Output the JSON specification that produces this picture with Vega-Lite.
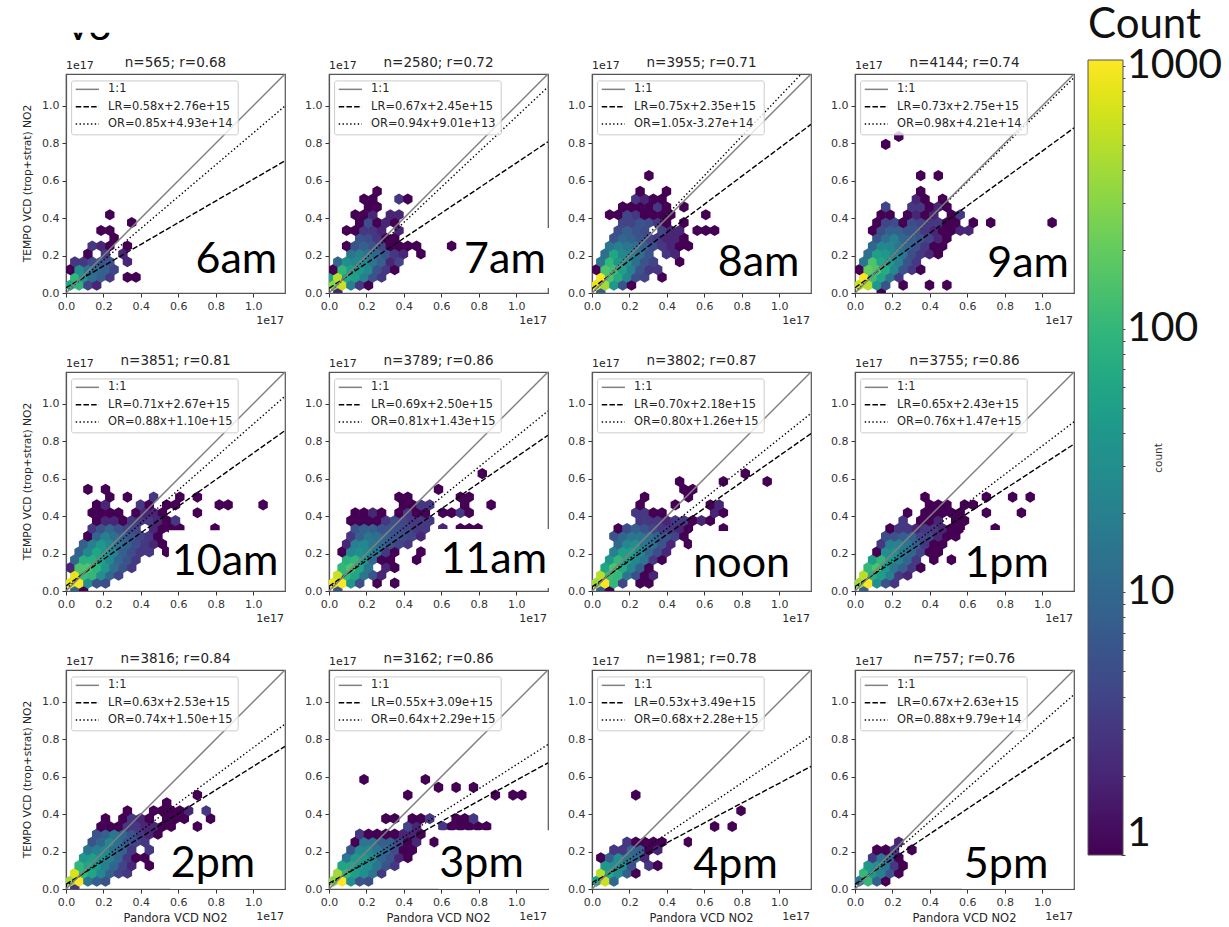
{"$schema":"https://vega.github.io/schema/vega-lite/v6.json","background":"white","padding":{"left":21,"top":5,"right":0,"bottom":0},"bounds":"flush","spacing":1020,"config":{"view":{"stroke":"#555","strokeWidth":1.2},"header":{"labels":false,"title":null,"labelFontSize":1,"labelPadding":0,"titlePadding":0,"labelColor":"white"},"text":{"font":"DejaVu Sans","color":"#262626"},"axis":{"labelFont":"DejaVu Sans","labelFontSize":11,"labelColor":"#333","tickColor":"#333","tickSize":4,"grid":false,"domainColor":"#555","domainWidth":1.2,"labelPadding":3,"labelFlush":false}},"hconcat":[{"data":{"values":[
{"p":"6am","k":"L","t":"n=565; r=0.68","lr":"LR=0.58x+2.76e+15","or":"OR=0.85x+4.93e+14","lx":0.91,"ly":0.107,"yt":"TEMPO VCD (trop+strat) NO2","v":"V3"},
{"p":"7am","k":"L","t":"n=2580; r=0.72","lr":"LR=0.67x+2.45e+15","or":"OR=0.94x+9.01e+13","lx":0.94,"ly":0.107,"x0":0.716,"x1":1.19,"y0":0.027,"y1":0.347},
{"p":"8am","k":"L","t":"n=3955; r=0.71","lr":"LR=0.75x+2.35e+15","or":"OR=1.05x-3.27e+14","lx":0.89,"ly":0.09},
{"p":"9am","k":"L","t":"n=4144; r=0.74","lr":"LR=0.73x+2.75e+15","or":"OR=0.98x+4.21e+14","lx":0.925,"ly":0.085},
{"p":"10am","k":"L","t":"n=3851; r=0.81","lr":"LR=0.71x+2.67e+15","or":"OR=0.88x+1.10e+15","lx":0.85,"ly":0.085,"yt":"TEMPO VCD (trop+strat) NO2","x0":0.55,"x1":1.165,"y0":0.005,"y1":0.325},
{"p":"11am","k":"L","t":"n=3789; r=0.86","lr":"LR=0.69x+2.50e+15","or":"OR=0.81x+1.43e+15","lx":0.88,"ly":0.096,"x0":0.577,"x1":1.19,"y0":0.016,"y1":0.331},
{"p":"noon","k":"L","t":"n=3802; r=0.87","lr":"LR=0.70x+2.18e+15","or":"OR=0.80x+1.26e+15","lx":0.8,"ly":0.075,"x0":0.534,"x1":1.165,"y0":0.005,"y1":0.32},
{"p":"1pm","k":"L","t":"n=3755; r=0.86","lr":"LR=0.65x+2.43e+15","or":"OR=0.76x+1.47e+15","lx":0.81,"ly":0.075,"x0":0.58,"x1":1.165,"y0":0.005,"y1":0.326},
{"p":"2pm","k":"L","t":"n=3816; r=0.84","lr":"LR=0.63x+2.53e+15","or":"OR=0.74x+1.50e+15","lx":0.785,"ly":0.065,"yt":"TEMPO VCD (trop+strat) NO2","xt":"Pandora VCD NO2","x0":0.556,"x1":1.165,"y0":0.002,"y1":0.3},
{"p":"3pm","k":"L","t":"n=3162; r=0.86","lr":"LR=0.55x+3.09e+15","or":"OR=0.64x+2.29e+15","lx":0.815,"ly":0.065,"xt":"Pandora VCD NO2","x0":0.585,"x1":1.19,"y0":0.002,"y1":0.314},
{"p":"4pm","k":"L","t":"n=1981; r=0.78","lr":"LR=0.53x+3.49e+15","or":"OR=0.68x+2.28e+15","lx":0.767,"ly":0.06,"xt":"Pandora VCD NO2","x0":0.534,"x1":1.165,"y0":0.002,"y1":0.28},
{"p":"5pm","k":"L","t":"n=757; r=0.76","lr":"LR=0.67x+2.63e+15","or":"OR=0.88x+9.79e+14","lx":0.807,"ly":0.06,"xt":"Pandora VCD NO2","x0":0.57,"x1":1.165,"y0":0.002,"y1":0.28},
{"p":"6am","k":"LR","x":0,"y":0.028},{"p":"6am","k":"LR","x":1.17,"y":0.706},{"p":"6am","k":"OR","x":0,"y":0.005},{"p":"6am","k":"OR","x":1.17,"y":0.999},
{"p":"7am","k":"LR","x":0,"y":0.025},{"p":"7am","k":"LR","x":1.17,"y":0.808},{"p":"7am","k":"OR","x":0,"y":0.001},{"p":"7am","k":"OR","x":1.17,"y":1.101},
{"p":"8am","k":"LR","x":0,"y":0.024},{"p":"8am","k":"LR","x":1.17,"y":0.901},{"p":"8am","k":"OR","x":0,"y":-0.003},{"p":"8am","k":"OR","x":1.17,"y":1.225},
{"p":"9am","k":"LR","x":0,"y":0.028},{"p":"9am","k":"LR","x":1.17,"y":0.882},{"p":"9am","k":"OR","x":0,"y":0.004},{"p":"9am","k":"OR","x":1.17,"y":1.151},
{"p":"10am","k":"LR","x":0,"y":0.027},{"p":"10am","k":"LR","x":1.17,"y":0.857},{"p":"10am","k":"OR","x":0,"y":0.011},{"p":"10am","k":"OR","x":1.17,"y":1.041},
{"p":"11am","k":"LR","x":0,"y":0.025},{"p":"11am","k":"LR","x":1.17,"y":0.832},{"p":"11am","k":"OR","x":0,"y":0.014},{"p":"11am","k":"OR","x":1.17,"y":0.962},
{"p":"noon","k":"LR","x":0,"y":0.022},{"p":"noon","k":"LR","x":1.17,"y":0.841},{"p":"noon","k":"OR","x":0,"y":0.013},{"p":"noon","k":"OR","x":1.17,"y":0.949},
{"p":"1pm","k":"LR","x":0,"y":0.024},{"p":"1pm","k":"LR","x":1.17,"y":0.785},{"p":"1pm","k":"OR","x":0,"y":0.015},{"p":"1pm","k":"OR","x":1.17,"y":0.904},
{"p":"2pm","k":"LR","x":0,"y":0.025},{"p":"2pm","k":"LR","x":1.17,"y":0.762},{"p":"2pm","k":"OR","x":0,"y":0.015},{"p":"2pm","k":"OR","x":1.17,"y":0.881},
{"p":"3pm","k":"LR","x":0,"y":0.031},{"p":"3pm","k":"LR","x":1.17,"y":0.674},{"p":"3pm","k":"OR","x":0,"y":0.023},{"p":"3pm","k":"OR","x":1.17,"y":0.772},
{"p":"4pm","k":"LR","x":0,"y":0.035},{"p":"4pm","k":"LR","x":1.17,"y":0.655},{"p":"4pm","k":"OR","x":0,"y":0.023},{"p":"4pm","k":"OR","x":1.17,"y":0.818},
{"p":"5pm","k":"LR","x":0,"y":0.026},{"p":"5pm","k":"LR","x":1.17,"y":0.81},{"p":"5pm","k":"OR","x":0,"y":0.01},{"p":"5pm","k":"OR","x":1.17,"y":1.039},
{"p":"6am","x":0.023,"y":0.042,"c":60},{"p":"6am","x":0.07,"y":0.042,"c":90},{"p":"6am","x":0.117,"y":0.042,"c":4},{"p":"6am","x":0.164,"y":0.042,"c":2},
{"p":"6am","x":0.047,"y":0.084,"c":100},{"p":"6am","x":0.094,"y":0.084,"c":30},{"p":"6am","x":0.14,"y":0.084,"c":12},{"p":"6am","x":0.187,"y":0.084,"c":8},{"p":"6am","x":0.234,"y":0.084,"c":3},{"p":"6am","x":0.328,"y":0.084,"c":1},{"p":"6am","x":0.374,"y":0.084,"c":1},
{"p":"6am","x":0.023,"y":0.125,"c":1},{"p":"6am","x":0.07,"y":0.125,"c":30},{"p":"6am","x":0.117,"y":0.125,"c":15},{"p":"6am","x":0.164,"y":0.125,"c":10},{"p":"6am","x":0.211,"y":0.125,"c":8},{"p":"6am","x":0.257,"y":0.125,"c":4},
{"p":"6am","x":0.047,"y":0.167,"c":3},{"p":"6am","x":0.094,"y":0.167,"c":3},{"p":"6am","x":0.14,"y":0.167,"c":5},{"p":"6am","x":0.187,"y":0.167,"c":6},{"p":"6am","x":0.234,"y":0.167,"c":6},{"p":"6am","x":0.328,"y":0.167,"c":2},
{"p":"6am","x":0.117,"y":0.209,"c":1},{"p":"6am","x":0.211,"y":0.209,"c":3},{"p":"6am","x":0.304,"y":0.209,"c":2},
{"p":"6am","x":0.14,"y":0.251,"c":3},{"p":"6am","x":0.187,"y":0.251,"c":2},{"p":"6am","x":0.234,"y":0.251,"c":1},{"p":"6am","x":0.328,"y":0.251,"c":1},
{"p":"6am","x":0.257,"y":0.293,"c":1},{"p":"6am","x":0.187,"y":0.334,"c":1},{"p":"6am","x":0.234,"y":0.334,"c":1},{"p":"6am","x":0.351,"y":0.376,"c":1},{"p":"6am","x":0.234,"y":0.418,"c":1},
{"p":"7am","x":0.047,"y":0,"c":2},
{"p":"7am","x":0.023,"y":0.042,"c":300},{"p":"7am","x":0.07,"y":0.042,"c":600},{"p":"7am","x":0.117,"y":0.042,"c":20},{"p":"7am","x":0.164,"y":0.042,"c":3},{"p":"7am","x":0.211,"y":0.042,"c":1},
{"p":"7am","x":0,"y":0.084,"c":60},{"p":"7am","x":0.047,"y":0.084,"c":500},{"p":"7am","x":0.094,"y":0.084,"c":60},{"p":"7am","x":0.14,"y":0.084,"c":50},{"p":"7am","x":0.187,"y":0.084,"c":20},{"p":"7am","x":0.234,"y":0.084,"c":6},{"p":"7am","x":0.281,"y":0.084,"c":3},
{"p":"7am","x":0.023,"y":0.125,"c":1},{"p":"7am","x":0.07,"y":0.125,"c":100},{"p":"7am","x":0.117,"y":0.125,"c":50},{"p":"7am","x":0.164,"y":0.125,"c":40},{"p":"7am","x":0.211,"y":0.125,"c":25},{"p":"7am","x":0.257,"y":0.125,"c":6},{"p":"7am","x":0.304,"y":0.125,"c":3},{"p":"7am","x":0.351,"y":0.125,"c":1},
{"p":"7am","x":0.047,"y":0.167,"c":10},{"p":"7am","x":0.094,"y":0.167,"c":30},{"p":"7am","x":0.14,"y":0.167,"c":25},{"p":"7am","x":0.187,"y":0.167,"c":25},{"p":"7am","x":0.234,"y":0.167,"c":15},{"p":"7am","x":0.281,"y":0.167,"c":8},{"p":"7am","x":0.328,"y":0.167,"c":2},{"p":"7am","x":0.374,"y":0.167,"c":4},
{"p":"7am","x":0.117,"y":0.209,"c":15},{"p":"7am","x":0.164,"y":0.209,"c":20},{"p":"7am","x":0.211,"y":0.209,"c":15},{"p":"7am","x":0.257,"y":0.209,"c":10},{"p":"7am","x":0.304,"y":0.209,"c":6},{"p":"7am","x":0.351,"y":0.209,"c":3},{"p":"7am","x":0.398,"y":0.209,"c":2},{"p":"7am","x":0.491,"y":0.209,"c":1},
{"p":"7am","x":0.094,"y":0.251,"c":1},{"p":"7am","x":0.14,"y":0.251,"c":6},{"p":"7am","x":0.187,"y":0.251,"c":8},{"p":"7am","x":0.234,"y":0.251,"c":6},{"p":"7am","x":0.281,"y":0.251,"c":4},{"p":"7am","x":0.328,"y":0.251,"c":1},{"p":"7am","x":0.374,"y":0.251,"c":1},{"p":"7am","x":0.421,"y":0.251,"c":1},{"p":"7am","x":0.468,"y":0.251,"c":1},{"p":"7am","x":0.655,"y":0.251,"c":1},
{"p":"7am","x":0.164,"y":0.293,"c":6},{"p":"7am","x":0.211,"y":0.293,"c":5},{"p":"7am","x":0.257,"y":0.293,"c":3},{"p":"7am","x":0.304,"y":0.293,"c":1},{"p":"7am","x":0.351,"y":0.293,"c":1},
{"p":"7am","x":0.094,"y":0.334,"c":1},{"p":"7am","x":0.14,"y":0.334,"c":1},{"p":"7am","x":0.187,"y":0.334,"c":3},{"p":"7am","x":0.234,"y":0.334,"c":3},{"p":"7am","x":0.281,"y":0.334,"c":2},{"p":"7am","x":0.374,"y":0.334,"c":2},
{"p":"7am","x":0.164,"y":0.376,"c":1},{"p":"7am","x":0.211,"y":0.376,"c":5},{"p":"7am","x":0.257,"y":0.376,"c":1},{"p":"7am","x":0.304,"y":0.376,"c":2},{"p":"7am","x":0.351,"y":0.376,"c":1},
{"p":"7am","x":0.14,"y":0.418,"c":1},{"p":"7am","x":0.187,"y":0.418,"c":1},{"p":"7am","x":0.234,"y":0.418,"c":2},{"p":"7am","x":0.328,"y":0.418,"c":2},{"p":"7am","x":0.374,"y":0.418,"c":2},
{"p":"7am","x":0.211,"y":0.46,"c":1},{"p":"7am","x":0.257,"y":0.46,"c":1},
{"p":"7am","x":0.187,"y":0.502,"c":1},{"p":"7am","x":0.234,"y":0.502,"c":1},{"p":"7am","x":0.374,"y":0.502,"c":3},{"p":"7am","x":0.421,"y":0.502,"c":1},{"p":"7am","x":0.257,"y":0.543,"c":1},
{"p":"8am","x":0.047,"y":0,"c":8},
{"p":"8am","x":0.023,"y":0.042,"c":800},{"p":"8am","x":0.07,"y":0.042,"c":400},{"p":"8am","x":0.117,"y":0.042,"c":40},{"p":"8am","x":0.164,"y":0.042,"c":6},{"p":"8am","x":0.211,"y":0.042,"c":1},
{"p":"8am","x":0.047,"y":0.084,"c":1000},{"p":"8am","x":0.094,"y":0.084,"c":150},{"p":"8am","x":0.14,"y":0.084,"c":70},{"p":"8am","x":0.187,"y":0.084,"c":25},{"p":"8am","x":0.234,"y":0.084,"c":5},{"p":"8am","x":0.281,"y":0.084,"c":4},{"p":"8am","x":0.374,"y":0.084,"c":1},
{"p":"8am","x":0.023,"y":0.125,"c":1},{"p":"8am","x":0.07,"y":0.125,"c":150},{"p":"8am","x":0.117,"y":0.125,"c":120},{"p":"8am","x":0.164,"y":0.125,"c":50},{"p":"8am","x":0.211,"y":0.125,"c":20},{"p":"8am","x":0.257,"y":0.125,"c":6},{"p":"8am","x":0.304,"y":0.125,"c":3},{"p":"8am","x":0.351,"y":0.125,"c":3},
{"p":"8am","x":0.047,"y":0.167,"c":15},{"p":"8am","x":0.094,"y":0.167,"c":100},{"p":"8am","x":0.14,"y":0.167,"c":40},{"p":"8am","x":0.187,"y":0.167,"c":30},{"p":"8am","x":0.234,"y":0.167,"c":12},{"p":"8am","x":0.281,"y":0.167,"c":6},{"p":"8am","x":0.328,"y":0.167,"c":4},{"p":"8am","x":0.468,"y":0.167,"c":1},
{"p":"8am","x":0.07,"y":0.209,"c":12},{"p":"8am","x":0.117,"y":0.209,"c":60},{"p":"8am","x":0.164,"y":0.209,"c":25},{"p":"8am","x":0.211,"y":0.209,"c":20},{"p":"8am","x":0.257,"y":0.209,"c":12},{"p":"8am","x":0.304,"y":0.209,"c":6},{"p":"8am","x":0.398,"y":0.209,"c":3},{"p":"8am","x":0.445,"y":0.209,"c":2},
{"p":"8am","x":0.094,"y":0.251,"c":15},{"p":"8am","x":0.14,"y":0.251,"c":20},{"p":"8am","x":0.187,"y":0.251,"c":15},{"p":"8am","x":0.234,"y":0.251,"c":12},{"p":"8am","x":0.281,"y":0.251,"c":8},{"p":"8am","x":0.328,"y":0.251,"c":5},{"p":"8am","x":0.374,"y":0.251,"c":3},{"p":"8am","x":0.421,"y":0.251,"c":2},{"p":"8am","x":0.468,"y":0.251,"c":1},{"p":"8am","x":0.515,"y":0.251,"c":1},
{"p":"8am","x":0.117,"y":0.293,"c":6},{"p":"8am","x":0.164,"y":0.293,"c":10},{"p":"8am","x":0.211,"y":0.293,"c":8},{"p":"8am","x":0.257,"y":0.293,"c":6},{"p":"8am","x":0.304,"y":0.293,"c":4},{"p":"8am","x":0.351,"y":0.293,"c":3},{"p":"8am","x":0.398,"y":0.293,"c":2},{"p":"8am","x":0.445,"y":0.293,"c":2},{"p":"8am","x":0.491,"y":0.293,"c":1},
{"p":"8am","x":0.14,"y":0.334,"c":5},{"p":"8am","x":0.187,"y":0.334,"c":8},{"p":"8am","x":0.234,"y":0.334,"c":6},{"p":"8am","x":0.281,"y":0.334,"c":5},{"p":"8am","x":0.374,"y":0.334,"c":4},{"p":"8am","x":0.421,"y":0.334,"c":2},{"p":"8am","x":0.468,"y":0.334,"c":2},{"p":"8am","x":0.562,"y":0.334,"c":1},{"p":"8am","x":0.608,"y":0.334,"c":1},{"p":"8am","x":0.655,"y":0.334,"c":1},
{"p":"8am","x":0.164,"y":0.376,"c":4},{"p":"8am","x":0.211,"y":0.376,"c":4},{"p":"8am","x":0.257,"y":0.376,"c":6},{"p":"8am","x":0.304,"y":0.376,"c":5},{"p":"8am","x":0.351,"y":0.376,"c":3},{"p":"8am","x":0.398,"y":0.376,"c":1},{"p":"8am","x":0.491,"y":0.376,"c":1},
{"p":"8am","x":0.094,"y":0.418,"c":1},{"p":"8am","x":0.14,"y":0.418,"c":1},{"p":"8am","x":0.187,"y":0.418,"c":4},{"p":"8am","x":0.234,"y":0.418,"c":3},{"p":"8am","x":0.281,"y":0.418,"c":1},{"p":"8am","x":0.328,"y":0.418,"c":1},{"p":"8am","x":0.374,"y":0.418,"c":1},{"p":"8am","x":0.421,"y":0.418,"c":1},{"p":"8am","x":0.608,"y":0.418,"c":1},
{"p":"8am","x":0.164,"y":0.46,"c":1},{"p":"8am","x":0.211,"y":0.46,"c":1},{"p":"8am","x":0.257,"y":0.46,"c":1},{"p":"8am","x":0.304,"y":0.46,"c":1},{"p":"8am","x":0.351,"y":0.46,"c":3},{"p":"8am","x":0.398,"y":0.46,"c":1},{"p":"8am","x":0.491,"y":0.46,"c":1},
{"p":"8am","x":0.234,"y":0.502,"c":3},{"p":"8am","x":0.281,"y":0.502,"c":2},{"p":"8am","x":0.328,"y":0.502,"c":1},{"p":"8am","x":0.374,"y":0.502,"c":1},{"p":"8am","x":0.257,"y":0.543,"c":1},{"p":"8am","x":0.398,"y":0.543,"c":1},{"p":"8am","x":0.304,"y":0.627,"c":1},
{"p":"9am","x":0.14,"y":0,"c":1},
{"p":"9am","x":0.023,"y":0.042,"c":600},{"p":"9am","x":0.07,"y":0.042,"c":500},{"p":"9am","x":0.117,"y":0.042,"c":40},{"p":"9am","x":0.164,"y":0.042,"c":6},{"p":"9am","x":0.257,"y":0.042,"c":1},{"p":"9am","x":0.398,"y":0.042,"c":1},{"p":"9am","x":0.491,"y":0.042,"c":1},
{"p":"9am","x":0.047,"y":0.084,"c":1000},{"p":"9am","x":0.094,"y":0.084,"c":120},{"p":"9am","x":0.14,"y":0.084,"c":60},{"p":"9am","x":0.187,"y":0.084,"c":15},{"p":"9am","x":0.234,"y":0.084,"c":3},
{"p":"9am","x":0.023,"y":0.125,"c":1},{"p":"9am","x":0.07,"y":0.125,"c":200},{"p":"9am","x":0.117,"y":0.125,"c":150},{"p":"9am","x":0.164,"y":0.125,"c":70},{"p":"9am","x":0.211,"y":0.125,"c":25},{"p":"9am","x":0.257,"y":0.125,"c":6},{"p":"9am","x":0.304,"y":0.125,"c":3},{"p":"9am","x":0.351,"y":0.125,"c":1},
{"p":"9am","x":0.047,"y":0.167,"c":15},{"p":"9am","x":0.094,"y":0.167,"c":150},{"p":"9am","x":0.14,"y":0.167,"c":60},{"p":"9am","x":0.187,"y":0.167,"c":40},{"p":"9am","x":0.234,"y":0.167,"c":20},{"p":"9am","x":0.281,"y":0.167,"c":6},{"p":"9am","x":0.328,"y":0.167,"c":3},
{"p":"9am","x":0.07,"y":0.209,"c":12},{"p":"9am","x":0.117,"y":0.209,"c":50},{"p":"9am","x":0.164,"y":0.209,"c":40},{"p":"9am","x":0.211,"y":0.209,"c":25},{"p":"9am","x":0.257,"y":0.209,"c":15},{"p":"9am","x":0.304,"y":0.209,"c":5},{"p":"9am","x":0.351,"y":0.209,"c":3},{"p":"9am","x":0.398,"y":0.209,"c":2},{"p":"9am","x":0.445,"y":0.209,"c":1},
{"p":"9am","x":0.094,"y":0.251,"c":10},{"p":"9am","x":0.14,"y":0.251,"c":25},{"p":"9am","x":0.187,"y":0.251,"c":25},{"p":"9am","x":0.234,"y":0.251,"c":15},{"p":"9am","x":0.281,"y":0.251,"c":10},{"p":"9am","x":0.328,"y":0.251,"c":6},{"p":"9am","x":0.374,"y":0.251,"c":3},{"p":"9am","x":0.421,"y":0.251,"c":1},{"p":"9am","x":0.468,"y":0.251,"c":1},
{"p":"9am","x":0.117,"y":0.293,"c":6},{"p":"9am","x":0.164,"y":0.293,"c":12},{"p":"9am","x":0.211,"y":0.293,"c":20},{"p":"9am","x":0.257,"y":0.293,"c":10},{"p":"9am","x":0.304,"y":0.293,"c":8},{"p":"9am","x":0.351,"y":0.293,"c":6},{"p":"9am","x":0.398,"y":0.293,"c":4},{"p":"9am","x":0.445,"y":0.293,"c":2},{"p":"9am","x":0.491,"y":0.293,"c":1},
{"p":"9am","x":0.094,"y":0.334,"c":1},{"p":"9am","x":0.14,"y":0.334,"c":5},{"p":"9am","x":0.187,"y":0.334,"c":8},{"p":"9am","x":0.234,"y":0.334,"c":8},{"p":"9am","x":0.281,"y":0.334,"c":6},{"p":"9am","x":0.328,"y":0.334,"c":6},{"p":"9am","x":0.374,"y":0.334,"c":3},{"p":"9am","x":0.421,"y":0.334,"c":2},{"p":"9am","x":0.468,"y":0.334,"c":1},{"p":"9am","x":0.515,"y":0.334,"c":1},{"p":"9am","x":0.562,"y":0.334,"c":2},{"p":"9am","x":0.608,"y":0.334,"c":2},
{"p":"9am","x":0.117,"y":0.376,"c":1},{"p":"9am","x":0.164,"y":0.376,"c":4},{"p":"9am","x":0.211,"y":0.376,"c":5},{"p":"9am","x":0.257,"y":0.376,"c":1},{"p":"9am","x":0.304,"y":0.376,"c":5},{"p":"9am","x":0.351,"y":0.376,"c":4},{"p":"9am","x":0.398,"y":0.376,"c":3},{"p":"9am","x":0.445,"y":0.376,"c":3},{"p":"9am","x":0.491,"y":0.376,"c":1},{"p":"9am","x":0.538,"y":0.376,"c":1},{"p":"9am","x":0.632,"y":0.376,"c":1},{"p":"9am","x":0.725,"y":0.376,"c":1},{"p":"9am","x":1.053,"y":0.376,"c":1},
{"p":"9am","x":0.14,"y":0.418,"c":1},{"p":"9am","x":0.187,"y":0.418,"c":1},{"p":"9am","x":0.281,"y":0.418,"c":1},{"p":"9am","x":0.328,"y":0.418,"c":2},{"p":"9am","x":0.374,"y":0.418,"c":1},{"p":"9am","x":0.421,"y":0.418,"c":2},{"p":"9am","x":0.515,"y":0.418,"c":1},{"p":"9am","x":0.562,"y":0.418,"c":3},
{"p":"9am","x":0.164,"y":0.46,"c":4},{"p":"9am","x":0.304,"y":0.46,"c":3},{"p":"9am","x":0.351,"y":0.46,"c":3},{"p":"9am","x":0.398,"y":0.46,"c":1},{"p":"9am","x":0.445,"y":0.46,"c":2},{"p":"9am","x":0.491,"y":0.46,"c":1},
{"p":"9am","x":0.328,"y":0.502,"c":2},{"p":"9am","x":0.374,"y":0.502,"c":1},{"p":"9am","x":0.468,"y":0.502,"c":1},{"p":"9am","x":0.351,"y":0.543,"c":1},{"p":"9am","x":0.351,"y":0.627,"c":1},{"p":"9am","x":0.445,"y":0.627,"c":1},{"p":"9am","x":0.164,"y":0.794,"c":1},{"p":"9am","x":0.234,"y":0.836,"c":1},
{"p":"10am","x":0.047,"y":0,"c":10},{"p":"10am","x":0.094,"y":0,"c":1},
{"p":"10am","x":0.023,"y":0.042,"c":800},{"p":"10am","x":0.07,"y":0.042,"c":1000},{"p":"10am","x":0.117,"y":0.042,"c":30},{"p":"10am","x":0.164,"y":0.042,"c":6},{"p":"10am","x":0.211,"y":0.042,"c":5},
{"p":"10am","x":0.047,"y":0.084,"c":800},{"p":"10am","x":0.094,"y":0.084,"c":120},{"p":"10am","x":0.14,"y":0.084,"c":100},{"p":"10am","x":0.187,"y":0.084,"c":30},{"p":"10am","x":0.234,"y":0.084,"c":10},{"p":"10am","x":0.281,"y":0.084,"c":4},
{"p":"10am","x":0.023,"y":0.125,"c":2},{"p":"10am","x":0.07,"y":0.125,"c":150},{"p":"10am","x":0.117,"y":0.125,"c":150},{"p":"10am","x":0.164,"y":0.125,"c":90},{"p":"10am","x":0.211,"y":0.125,"c":40},{"p":"10am","x":0.257,"y":0.125,"c":12},{"p":"10am","x":0.304,"y":0.125,"c":6},{"p":"10am","x":0.351,"y":0.125,"c":3},
{"p":"10am","x":0.047,"y":0.167,"c":10},{"p":"10am","x":0.094,"y":0.167,"c":80},{"p":"10am","x":0.14,"y":0.167,"c":80},{"p":"10am","x":0.187,"y":0.167,"c":50},{"p":"10am","x":0.234,"y":0.167,"c":25},{"p":"10am","x":0.281,"y":0.167,"c":10},{"p":"10am","x":0.328,"y":0.167,"c":6},{"p":"10am","x":0.374,"y":0.167,"c":3},
{"p":"10am","x":0.07,"y":0.209,"c":8},{"p":"10am","x":0.117,"y":0.209,"c":25},{"p":"10am","x":0.164,"y":0.209,"c":60},{"p":"10am","x":0.211,"y":0.209,"c":40},{"p":"10am","x":0.257,"y":0.209,"c":20},{"p":"10am","x":0.304,"y":0.209,"c":8},{"p":"10am","x":0.351,"y":0.209,"c":5},{"p":"10am","x":0.398,"y":0.209,"c":3},{"p":"10am","x":0.445,"y":0.209,"c":3},{"p":"10am","x":0.538,"y":0.209,"c":1},
{"p":"10am","x":0.094,"y":0.251,"c":8},{"p":"10am","x":0.14,"y":0.251,"c":20},{"p":"10am","x":0.187,"y":0.251,"c":40},{"p":"10am","x":0.234,"y":0.251,"c":25},{"p":"10am","x":0.281,"y":0.251,"c":12},{"p":"10am","x":0.328,"y":0.251,"c":8},{"p":"10am","x":0.374,"y":0.251,"c":5},{"p":"10am","x":0.421,"y":0.251,"c":3},{"p":"10am","x":0.468,"y":0.251,"c":2},{"p":"10am","x":0.515,"y":0.251,"c":1},
{"p":"10am","x":0.117,"y":0.293,"c":1},{"p":"10am","x":0.164,"y":0.293,"c":10},{"p":"10am","x":0.211,"y":0.293,"c":20},{"p":"10am","x":0.257,"y":0.293,"c":12},{"p":"10am","x":0.304,"y":0.293,"c":8},{"p":"10am","x":0.351,"y":0.293,"c":6},{"p":"10am","x":0.398,"y":0.293,"c":4},{"p":"10am","x":0.445,"y":0.293,"c":3},{"p":"10am","x":0.491,"y":0.293,"c":1},
{"p":"10am","x":0.14,"y":0.334,"c":3},{"p":"10am","x":0.187,"y":0.334,"c":6},{"p":"10am","x":0.234,"y":0.334,"c":10},{"p":"10am","x":0.281,"y":0.334,"c":6},{"p":"10am","x":0.328,"y":0.334,"c":4},{"p":"10am","x":0.374,"y":0.334,"c":4},{"p":"10am","x":0.468,"y":0.334,"c":2},{"p":"10am","x":0.515,"y":0.334,"c":1},{"p":"10am","x":0.562,"y":0.334,"c":1},{"p":"10am","x":0.608,"y":0.334,"c":1},{"p":"10am","x":0.796,"y":0.334,"c":1},
{"p":"10am","x":0.164,"y":0.376,"c":1},{"p":"10am","x":0.211,"y":0.376,"c":2},{"p":"10am","x":0.257,"y":0.376,"c":2},{"p":"10am","x":0.304,"y":0.376,"c":1},{"p":"10am","x":0.351,"y":0.376,"c":3},{"p":"10am","x":0.398,"y":0.376,"c":3},{"p":"10am","x":0.445,"y":0.376,"c":3},{"p":"10am","x":0.491,"y":0.376,"c":2},{"p":"10am","x":0.538,"y":0.376,"c":1},{"p":"10am","x":0.585,"y":0.376,"c":3},
{"p":"10am","x":0.14,"y":0.418,"c":1},{"p":"10am","x":0.187,"y":0.418,"c":1},{"p":"10am","x":0.234,"y":0.418,"c":1},{"p":"10am","x":0.281,"y":0.418,"c":1},{"p":"10am","x":0.374,"y":0.418,"c":1},{"p":"10am","x":0.421,"y":0.418,"c":2},{"p":"10am","x":0.468,"y":0.418,"c":2},{"p":"10am","x":0.515,"y":0.418,"c":1},{"p":"10am","x":0.702,"y":0.418,"c":1},
{"p":"10am","x":0.164,"y":0.46,"c":1},{"p":"10am","x":0.211,"y":0.46,"c":2},{"p":"10am","x":0.398,"y":0.46,"c":3},{"p":"10am","x":0.445,"y":0.46,"c":1},{"p":"10am","x":0.538,"y":0.46,"c":1},{"p":"10am","x":0.585,"y":0.46,"c":1},{"p":"10am","x":0.819,"y":0.46,"c":1},{"p":"10am","x":0.866,"y":0.46,"c":1},{"p":"10am","x":1.053,"y":0.46,"c":1},
{"p":"10am","x":0.234,"y":0.502,"c":1},{"p":"10am","x":0.328,"y":0.502,"c":1},{"p":"10am","x":0.468,"y":0.502,"c":3},{"p":"10am","x":0.608,"y":0.502,"c":1},{"p":"10am","x":0.702,"y":0.502,"c":1},{"p":"10am","x":0.117,"y":0.543,"c":1},{"p":"10am","x":0.211,"y":0.543,"c":1},
{"p":"11am","x":0.047,"y":0,"c":6},
{"p":"11am","x":0.023,"y":0.042,"c":900},{"p":"11am","x":0.07,"y":0.042,"c":1000},{"p":"11am","x":0.117,"y":0.042,"c":40},{"p":"11am","x":0.164,"y":0.042,"c":5},{"p":"11am","x":0.257,"y":0.042,"c":1},{"p":"11am","x":0.351,"y":0.042,"c":1},
{"p":"11am","x":0.047,"y":0.084,"c":600},{"p":"11am","x":0.094,"y":0.084,"c":100},{"p":"11am","x":0.14,"y":0.084,"c":60},{"p":"11am","x":0.187,"y":0.084,"c":15},{"p":"11am","x":0.234,"y":0.084,"c":6},{"p":"11am","x":0.281,"y":0.084,"c":2},
{"p":"11am","x":0.07,"y":0.125,"c":100},{"p":"11am","x":0.117,"y":0.125,"c":150},{"p":"11am","x":0.164,"y":0.125,"c":60},{"p":"11am","x":0.211,"y":0.125,"c":15},{"p":"11am","x":0.304,"y":0.125,"c":2},{"p":"11am","x":0.351,"y":0.125,"c":1},
{"p":"11am","x":0.094,"y":0.167,"c":80},{"p":"11am","x":0.14,"y":0.167,"c":100},{"p":"11am","x":0.187,"y":0.167,"c":40},{"p":"11am","x":0.234,"y":0.167,"c":10},{"p":"11am","x":0.281,"y":0.167,"c":1},{"p":"11am","x":0.328,"y":0.167,"c":1},{"p":"11am","x":0.468,"y":0.167,"c":1},
{"p":"11am","x":0.07,"y":0.209,"c":1},{"p":"11am","x":0.117,"y":0.209,"c":25},{"p":"11am","x":0.164,"y":0.209,"c":30},{"p":"11am","x":0.211,"y":0.209,"c":25},{"p":"11am","x":0.257,"y":0.209,"c":15},{"p":"11am","x":0.304,"y":0.209,"c":3},{"p":"11am","x":0.351,"y":0.209,"c":1},{"p":"11am","x":0.491,"y":0.209,"c":1},
{"p":"11am","x":0.094,"y":0.251,"c":2},{"p":"11am","x":0.14,"y":0.251,"c":20},{"p":"11am","x":0.187,"y":0.251,"c":25},{"p":"11am","x":0.234,"y":0.251,"c":15},{"p":"11am","x":0.281,"y":0.251,"c":10},{"p":"11am","x":0.328,"y":0.251,"c":6},{"p":"11am","x":0.374,"y":0.251,"c":4},{"p":"11am","x":0.421,"y":0.251,"c":3},
{"p":"11am","x":0.117,"y":0.293,"c":3},{"p":"11am","x":0.164,"y":0.293,"c":8},{"p":"11am","x":0.211,"y":0.293,"c":15},{"p":"11am","x":0.257,"y":0.293,"c":12},{"p":"11am","x":0.304,"y":0.293,"c":8},{"p":"11am","x":0.351,"y":0.293,"c":6},{"p":"11am","x":0.398,"y":0.293,"c":5},{"p":"11am","x":0.445,"y":0.293,"c":4},{"p":"11am","x":0.491,"y":0.293,"c":2},
{"p":"11am","x":0.14,"y":0.334,"c":6},{"p":"11am","x":0.187,"y":0.334,"c":8},{"p":"11am","x":0.234,"y":0.334,"c":8},{"p":"11am","x":0.281,"y":0.334,"c":6},{"p":"11am","x":0.328,"y":0.334,"c":6},{"p":"11am","x":0.374,"y":0.334,"c":5},{"p":"11am","x":0.421,"y":0.334,"c":4},{"p":"11am","x":0.468,"y":0.334,"c":3},{"p":"11am","x":0.515,"y":0.334,"c":3},{"p":"11am","x":0.608,"y":0.334,"c":2},{"p":"11am","x":0.702,"y":0.334,"c":1},{"p":"11am","x":0.749,"y":0.334,"c":1},{"p":"11am","x":0.796,"y":0.334,"c":1},
{"p":"11am","x":0.117,"y":0.376,"c":1},{"p":"11am","x":0.164,"y":0.376,"c":1},{"p":"11am","x":0.211,"y":0.376,"c":1},{"p":"11am","x":0.257,"y":0.376,"c":1},{"p":"11am","x":0.304,"y":0.376,"c":3},{"p":"11am","x":0.351,"y":0.376,"c":5},{"p":"11am","x":0.398,"y":0.376,"c":4},{"p":"11am","x":0.445,"y":0.376,"c":3},{"p":"11am","x":0.491,"y":0.376,"c":3},{"p":"11am","x":0.538,"y":0.376,"c":3},
{"p":"11am","x":0.14,"y":0.418,"c":1},{"p":"11am","x":0.187,"y":0.418,"c":1},{"p":"11am","x":0.234,"y":0.418,"c":2},{"p":"11am","x":0.281,"y":0.418,"c":1},{"p":"11am","x":0.374,"y":0.418,"c":1},{"p":"11am","x":0.421,"y":0.418,"c":3},{"p":"11am","x":0.468,"y":0.418,"c":1},{"p":"11am","x":0.515,"y":0.418,"c":1},{"p":"11am","x":0.608,"y":0.418,"c":1},{"p":"11am","x":0.655,"y":0.418,"c":1},{"p":"11am","x":0.702,"y":0.418,"c":3},{"p":"11am","x":0.749,"y":0.418,"c":1},
{"p":"11am","x":0.398,"y":0.46,"c":1},{"p":"11am","x":0.445,"y":0.46,"c":1},{"p":"11am","x":0.491,"y":0.46,"c":3},{"p":"11am","x":0.538,"y":0.46,"c":3},{"p":"11am","x":0.725,"y":0.46,"c":1},{"p":"11am","x":0.866,"y":0.46,"c":1},
{"p":"11am","x":0.374,"y":0.502,"c":1},{"p":"11am","x":0.421,"y":0.502,"c":1},{"p":"11am","x":0.702,"y":0.502,"c":1},{"p":"11am","x":0.749,"y":0.502,"c":1},{"p":"11am","x":0.585,"y":0.543,"c":1},{"p":"11am","x":0.819,"y":0.627,"c":1},
{"p":"noon","x":0.047,"y":0,"c":8},{"p":"noon","x":0.094,"y":0,"c":1},
{"p":"noon","x":0.023,"y":0.042,"c":400},{"p":"noon","x":0.07,"y":0.042,"c":1000},{"p":"noon","x":0.117,"y":0.042,"c":100},{"p":"noon","x":0.164,"y":0.042,"c":4},{"p":"noon","x":0.257,"y":0.042,"c":1},{"p":"noon","x":0.304,"y":0.042,"c":1},
{"p":"noon","x":0.047,"y":0.084,"c":500},{"p":"noon","x":0.094,"y":0.084,"c":120},{"p":"noon","x":0.14,"y":0.084,"c":100},{"p":"noon","x":0.187,"y":0.084,"c":15},{"p":"noon","x":0.234,"y":0.084,"c":5},{"p":"noon","x":0.281,"y":0.084,"c":1},{"p":"noon","x":0.328,"y":0.084,"c":2},
{"p":"noon","x":0.07,"y":0.125,"c":60},{"p":"noon","x":0.117,"y":0.125,"c":150},{"p":"noon","x":0.164,"y":0.125,"c":70},{"p":"noon","x":0.211,"y":0.125,"c":25},{"p":"noon","x":0.257,"y":0.125,"c":8},{"p":"noon","x":0.304,"y":0.125,"c":1},
{"p":"noon","x":0.094,"y":0.167,"c":40},{"p":"noon","x":0.14,"y":0.167,"c":100},{"p":"noon","x":0.187,"y":0.167,"c":50},{"p":"noon","x":0.234,"y":0.167,"c":25},{"p":"noon","x":0.281,"y":0.167,"c":15},{"p":"noon","x":0.328,"y":0.167,"c":3},{"p":"noon","x":0.374,"y":0.167,"c":1},
{"p":"noon","x":0.117,"y":0.209,"c":20},{"p":"noon","x":0.164,"y":0.209,"c":50},{"p":"noon","x":0.211,"y":0.209,"c":50},{"p":"noon","x":0.257,"y":0.209,"c":25},{"p":"noon","x":0.304,"y":0.209,"c":10},{"p":"noon","x":0.351,"y":0.209,"c":5},{"p":"noon","x":0.398,"y":0.209,"c":2},
{"p":"noon","x":0.14,"y":0.251,"c":10},{"p":"noon","x":0.187,"y":0.251,"c":25},{"p":"noon","x":0.234,"y":0.251,"c":30},{"p":"noon","x":0.281,"y":0.251,"c":15},{"p":"noon","x":0.328,"y":0.251,"c":12},{"p":"noon","x":0.374,"y":0.251,"c":6},{"p":"noon","x":0.421,"y":0.251,"c":2},{"p":"noon","x":0.515,"y":0.251,"c":1},
{"p":"noon","x":0.117,"y":0.293,"c":6},{"p":"noon","x":0.164,"y":0.293,"c":10},{"p":"noon","x":0.211,"y":0.293,"c":15},{"p":"noon","x":0.257,"y":0.293,"c":15},{"p":"noon","x":0.304,"y":0.293,"c":12},{"p":"noon","x":0.351,"y":0.293,"c":8},{"p":"noon","x":0.398,"y":0.293,"c":6},{"p":"noon","x":0.445,"y":0.293,"c":4},{"p":"noon","x":0.491,"y":0.293,"c":1},
{"p":"noon","x":0.14,"y":0.334,"c":1},{"p":"noon","x":0.187,"y":0.334,"c":5},{"p":"noon","x":0.234,"y":0.334,"c":8},{"p":"noon","x":0.281,"y":0.334,"c":6},{"p":"noon","x":0.328,"y":0.334,"c":4},{"p":"noon","x":0.374,"y":0.334,"c":3},{"p":"noon","x":0.421,"y":0.334,"c":3},{"p":"noon","x":0.468,"y":0.334,"c":2},{"p":"noon","x":0.515,"y":0.334,"c":1},{"p":"noon","x":0.702,"y":0.334,"c":1},
{"p":"noon","x":0.257,"y":0.376,"c":3},{"p":"noon","x":0.304,"y":0.376,"c":3},{"p":"noon","x":0.351,"y":0.376,"c":3},{"p":"noon","x":0.398,"y":0.376,"c":2},{"p":"noon","x":0.445,"y":0.376,"c":3},{"p":"noon","x":0.491,"y":0.376,"c":3},{"p":"noon","x":0.538,"y":0.376,"c":1},{"p":"noon","x":0.585,"y":0.376,"c":2},{"p":"noon","x":0.632,"y":0.376,"c":1},
{"p":"noon","x":0.234,"y":0.418,"c":3},{"p":"noon","x":0.281,"y":0.418,"c":3},{"p":"noon","x":0.328,"y":0.418,"c":1},{"p":"noon","x":0.374,"y":0.418,"c":1},{"p":"noon","x":0.655,"y":0.418,"c":2},{"p":"noon","x":0.702,"y":0.418,"c":1},
{"p":"noon","x":0.257,"y":0.46,"c":1},{"p":"noon","x":0.445,"y":0.46,"c":1},{"p":"noon","x":0.632,"y":0.46,"c":1},{"p":"noon","x":0.679,"y":0.46,"c":2},
{"p":"noon","x":0.281,"y":0.502,"c":1},{"p":"noon","x":0.515,"y":0.502,"c":1},{"p":"noon","x":0.491,"y":0.543,"c":1},{"p":"noon","x":0.538,"y":0.543,"c":1},{"p":"noon","x":0.468,"y":0.585,"c":1},{"p":"noon","x":0.702,"y":0.585,"c":1},{"p":"noon","x":0.936,"y":0.585,"c":1},{"p":"noon","x":0.819,"y":0.627,"c":1},
{"p":"1pm","x":0.047,"y":0,"c":8},
{"p":"1pm","x":0.023,"y":0.042,"c":400},{"p":"1pm","x":0.07,"y":0.042,"c":1000},{"p":"1pm","x":0.117,"y":0.042,"c":30},{"p":"1pm","x":0.164,"y":0.042,"c":6},{"p":"1pm","x":0.211,"y":0.042,"c":3},
{"p":"1pm","x":0.047,"y":0.084,"c":500},{"p":"1pm","x":0.094,"y":0.084,"c":80},{"p":"1pm","x":0.14,"y":0.084,"c":50},{"p":"1pm","x":0.187,"y":0.084,"c":20},{"p":"1pm","x":0.234,"y":0.084,"c":3},{"p":"1pm","x":0.281,"y":0.084,"c":2},
{"p":"1pm","x":0.07,"y":0.125,"c":100},{"p":"1pm","x":0.117,"y":0.125,"c":150},{"p":"1pm","x":0.164,"y":0.125,"c":40},{"p":"1pm","x":0.211,"y":0.125,"c":15},{"p":"1pm","x":0.257,"y":0.125,"c":8},{"p":"1pm","x":0.304,"y":0.125,"c":3},{"p":"1pm","x":0.351,"y":0.125,"c":1},
{"p":"1pm","x":0.094,"y":0.167,"c":50},{"p":"1pm","x":0.14,"y":0.167,"c":100},{"p":"1pm","x":0.187,"y":0.167,"c":40},{"p":"1pm","x":0.234,"y":0.167,"c":20},{"p":"1pm","x":0.281,"y":0.167,"c":10},{"p":"1pm","x":0.328,"y":0.167,"c":3},{"p":"1pm","x":0.421,"y":0.167,"c":1},{"p":"1pm","x":0.515,"y":0.167,"c":1},
{"p":"1pm","x":0.117,"y":0.209,"c":1},{"p":"1pm","x":0.164,"y":0.209,"c":30},{"p":"1pm","x":0.211,"y":0.209,"c":30},{"p":"1pm","x":0.257,"y":0.209,"c":15},{"p":"1pm","x":0.304,"y":0.209,"c":10},{"p":"1pm","x":0.351,"y":0.209,"c":4},{"p":"1pm","x":0.398,"y":0.209,"c":1},{"p":"1pm","x":0.445,"y":0.209,"c":1},
{"p":"1pm","x":0.14,"y":0.251,"c":3},{"p":"1pm","x":0.187,"y":0.251,"c":20},{"p":"1pm","x":0.234,"y":0.251,"c":20},{"p":"1pm","x":0.281,"y":0.251,"c":15},{"p":"1pm","x":0.328,"y":0.251,"c":8},{"p":"1pm","x":0.374,"y":0.251,"c":3},{"p":"1pm","x":0.421,"y":0.251,"c":1},{"p":"1pm","x":0.468,"y":0.251,"c":1},
{"p":"1pm","x":0.164,"y":0.293,"c":5},{"p":"1pm","x":0.211,"y":0.293,"c":6},{"p":"1pm","x":0.257,"y":0.293,"c":8},{"p":"1pm","x":0.304,"y":0.293,"c":8},{"p":"1pm","x":0.351,"y":0.293,"c":4},{"p":"1pm","x":0.398,"y":0.293,"c":4},{"p":"1pm","x":0.445,"y":0.293,"c":2},{"p":"1pm","x":0.491,"y":0.293,"c":1},{"p":"1pm","x":0.538,"y":0.293,"c":1},
{"p":"1pm","x":0.187,"y":0.334,"c":1},{"p":"1pm","x":0.234,"y":0.334,"c":3},{"p":"1pm","x":0.281,"y":0.334,"c":3},{"p":"1pm","x":0.328,"y":0.334,"c":2},{"p":"1pm","x":0.374,"y":0.334,"c":3},{"p":"1pm","x":0.421,"y":0.334,"c":3},{"p":"1pm","x":0.468,"y":0.334,"c":2},{"p":"1pm","x":0.515,"y":0.334,"c":1},{"p":"1pm","x":0.562,"y":0.334,"c":1},{"p":"1pm","x":0.749,"y":0.334,"c":1},
{"p":"1pm","x":0.257,"y":0.376,"c":3},{"p":"1pm","x":0.351,"y":0.376,"c":1},{"p":"1pm","x":0.398,"y":0.376,"c":1},{"p":"1pm","x":0.445,"y":0.376,"c":2},{"p":"1pm","x":0.538,"y":0.376,"c":1},{"p":"1pm","x":0.585,"y":0.376,"c":1},
{"p":"1pm","x":0.281,"y":0.418,"c":1},{"p":"1pm","x":0.374,"y":0.418,"c":1},{"p":"1pm","x":0.421,"y":0.418,"c":1},{"p":"1pm","x":0.468,"y":0.418,"c":1},{"p":"1pm","x":0.515,"y":0.418,"c":1},{"p":"1pm","x":0.562,"y":0.418,"c":1},{"p":"1pm","x":0.702,"y":0.418,"c":1},{"p":"1pm","x":0.889,"y":0.418,"c":1},
{"p":"1pm","x":0.398,"y":0.46,"c":1},{"p":"1pm","x":0.445,"y":0.46,"c":1},{"p":"1pm","x":0.491,"y":0.46,"c":1},{"p":"1pm","x":0.585,"y":0.46,"c":1},{"p":"1pm","x":0.632,"y":0.46,"c":1},
{"p":"1pm","x":0.374,"y":0.502,"c":1},{"p":"1pm","x":0.702,"y":0.502,"c":1},{"p":"1pm","x":0.842,"y":0.502,"c":1},{"p":"1pm","x":0.936,"y":0.502,"c":1},
{"p":"2pm","x":0.047,"y":0,"c":3},
{"p":"2pm","x":0.023,"y":0.042,"c":400},{"p":"2pm","x":0.07,"y":0.042,"c":1000},{"p":"2pm","x":0.117,"y":0.042,"c":15},{"p":"2pm","x":0.164,"y":0.042,"c":8},{"p":"2pm","x":0.211,"y":0.042,"c":6},
{"p":"2pm","x":0.047,"y":0.084,"c":700},{"p":"2pm","x":0.094,"y":0.084,"c":100},{"p":"2pm","x":0.14,"y":0.084,"c":60},{"p":"2pm","x":0.187,"y":0.084,"c":25},{"p":"2pm","x":0.234,"y":0.084,"c":8},{"p":"2pm","x":0.281,"y":0.084,"c":4},{"p":"2pm","x":0.328,"y":0.084,"c":3},
{"p":"2pm","x":0.07,"y":0.125,"c":100},{"p":"2pm","x":0.117,"y":0.125,"c":60},{"p":"2pm","x":0.164,"y":0.125,"c":40},{"p":"2pm","x":0.211,"y":0.125,"c":20},{"p":"2pm","x":0.257,"y":0.125,"c":10},{"p":"2pm","x":0.304,"y":0.125,"c":4},{"p":"2pm","x":0.351,"y":0.125,"c":2},{"p":"2pm","x":0.445,"y":0.125,"c":1},
{"p":"2pm","x":0.094,"y":0.167,"c":40},{"p":"2pm","x":0.14,"y":0.167,"c":50},{"p":"2pm","x":0.187,"y":0.167,"c":30},{"p":"2pm","x":0.234,"y":0.167,"c":20},{"p":"2pm","x":0.281,"y":0.167,"c":10},{"p":"2pm","x":0.328,"y":0.167,"c":3},{"p":"2pm","x":0.374,"y":0.167,"c":1},{"p":"2pm","x":0.421,"y":0.167,"c":1},
{"p":"2pm","x":0.117,"y":0.209,"c":15},{"p":"2pm","x":0.164,"y":0.209,"c":20},{"p":"2pm","x":0.211,"y":0.209,"c":25},{"p":"2pm","x":0.257,"y":0.209,"c":12},{"p":"2pm","x":0.304,"y":0.209,"c":8},{"p":"2pm","x":0.351,"y":0.209,"c":3},{"p":"2pm","x":0.445,"y":0.209,"c":3},
{"p":"2pm","x":0.14,"y":0.251,"c":6},{"p":"2pm","x":0.187,"y":0.251,"c":10},{"p":"2pm","x":0.234,"y":0.251,"c":25},{"p":"2pm","x":0.281,"y":0.251,"c":12},{"p":"2pm","x":0.328,"y":0.251,"c":6},{"p":"2pm","x":0.374,"y":0.251,"c":4},{"p":"2pm","x":0.421,"y":0.251,"c":3},
{"p":"2pm","x":0.164,"y":0.293,"c":6},{"p":"2pm","x":0.211,"y":0.293,"c":8},{"p":"2pm","x":0.257,"y":0.293,"c":15},{"p":"2pm","x":0.304,"y":0.293,"c":10},{"p":"2pm","x":0.351,"y":0.293,"c":6},{"p":"2pm","x":0.398,"y":0.293,"c":3},{"p":"2pm","x":0.445,"y":0.293,"c":2},{"p":"2pm","x":0.491,"y":0.293,"c":1},
{"p":"2pm","x":0.187,"y":0.334,"c":1},{"p":"2pm","x":0.234,"y":0.334,"c":1},{"p":"2pm","x":0.281,"y":0.334,"c":1},{"p":"2pm","x":0.328,"y":0.334,"c":3},{"p":"2pm","x":0.374,"y":0.334,"c":3},{"p":"2pm","x":0.421,"y":0.334,"c":2},{"p":"2pm","x":0.468,"y":0.334,"c":2},{"p":"2pm","x":0.515,"y":0.334,"c":1},{"p":"2pm","x":0.562,"y":0.334,"c":1},{"p":"2pm","x":0.702,"y":0.334,"c":1},
{"p":"2pm","x":0.211,"y":0.376,"c":1},{"p":"2pm","x":0.304,"y":0.376,"c":1},{"p":"2pm","x":0.351,"y":0.376,"c":3},{"p":"2pm","x":0.398,"y":0.376,"c":2},{"p":"2pm","x":0.445,"y":0.376,"c":1},{"p":"2pm","x":0.538,"y":0.376,"c":1},{"p":"2pm","x":0.585,"y":0.376,"c":1},{"p":"2pm","x":0.632,"y":0.376,"c":1},{"p":"2pm","x":0.772,"y":0.376,"c":1},
{"p":"2pm","x":0.328,"y":0.418,"c":1},{"p":"2pm","x":0.468,"y":0.418,"c":1},{"p":"2pm","x":0.515,"y":0.418,"c":1},{"p":"2pm","x":0.562,"y":0.418,"c":1},{"p":"2pm","x":0.608,"y":0.418,"c":1},{"p":"2pm","x":0.655,"y":0.418,"c":2},{"p":"2pm","x":0.749,"y":0.418,"c":3},
{"p":"2pm","x":0.538,"y":0.46,"c":1},{"p":"2pm","x":0.702,"y":0.502,"c":1},
{"p":"3pm","x":0.023,"y":0.042,"c":300},{"p":"3pm","x":0.07,"y":0.042,"c":1000},{"p":"3pm","x":0.117,"y":0.042,"c":30},{"p":"3pm","x":0.164,"y":0.042,"c":6},{"p":"3pm","x":0.211,"y":0.042,"c":5},
{"p":"3pm","x":0.047,"y":0.084,"c":400},{"p":"3pm","x":0.094,"y":0.084,"c":100},{"p":"3pm","x":0.14,"y":0.084,"c":50},{"p":"3pm","x":0.187,"y":0.084,"c":30},{"p":"3pm","x":0.234,"y":0.084,"c":15},{"p":"3pm","x":0.281,"y":0.084,"c":3},
{"p":"3pm","x":0.07,"y":0.125,"c":60},{"p":"3pm","x":0.117,"y":0.125,"c":60},{"p":"3pm","x":0.164,"y":0.125,"c":40},{"p":"3pm","x":0.211,"y":0.125,"c":30},{"p":"3pm","x":0.257,"y":0.125,"c":15},{"p":"3pm","x":0.304,"y":0.125,"c":6},{"p":"3pm","x":0.351,"y":0.125,"c":3},
{"p":"3pm","x":0.094,"y":0.167,"c":15},{"p":"3pm","x":0.14,"y":0.167,"c":40},{"p":"3pm","x":0.187,"y":0.167,"c":40},{"p":"3pm","x":0.234,"y":0.167,"c":25},{"p":"3pm","x":0.281,"y":0.167,"c":10},{"p":"3pm","x":0.328,"y":0.167,"c":6},{"p":"3pm","x":0.374,"y":0.167,"c":2},{"p":"3pm","x":0.421,"y":0.167,"c":1},
{"p":"3pm","x":0.117,"y":0.209,"c":6},{"p":"3pm","x":0.164,"y":0.209,"c":25},{"p":"3pm","x":0.211,"y":0.209,"c":25},{"p":"3pm","x":0.257,"y":0.209,"c":15},{"p":"3pm","x":0.304,"y":0.209,"c":10},{"p":"3pm","x":0.351,"y":0.209,"c":5},{"p":"3pm","x":0.398,"y":0.209,"c":1},{"p":"3pm","x":0.445,"y":0.209,"c":1},
{"p":"3pm","x":0.14,"y":0.251,"c":1},{"p":"3pm","x":0.187,"y":0.251,"c":15},{"p":"3pm","x":0.234,"y":0.251,"c":15},{"p":"3pm","x":0.281,"y":0.251,"c":8},{"p":"3pm","x":0.328,"y":0.251,"c":8},{"p":"3pm","x":0.374,"y":0.251,"c":4},{"p":"3pm","x":0.421,"y":0.251,"c":1},{"p":"3pm","x":0.468,"y":0.251,"c":2},{"p":"3pm","x":0.562,"y":0.251,"c":1},
{"p":"3pm","x":0.164,"y":0.293,"c":3},{"p":"3pm","x":0.211,"y":0.293,"c":1},{"p":"3pm","x":0.257,"y":0.293,"c":1},{"p":"3pm","x":0.304,"y":0.293,"c":1},{"p":"3pm","x":0.351,"y":0.293,"c":1},{"p":"3pm","x":0.398,"y":0.293,"c":2},{"p":"3pm","x":0.445,"y":0.293,"c":2},{"p":"3pm","x":0.491,"y":0.293,"c":1},
{"p":"3pm","x":0.421,"y":0.334,"c":4},{"p":"3pm","x":0.468,"y":0.334,"c":2},{"p":"3pm","x":0.608,"y":0.334,"c":3},{"p":"3pm","x":0.655,"y":0.334,"c":1},{"p":"3pm","x":0.702,"y":0.334,"c":1},{"p":"3pm","x":0.749,"y":0.334,"c":1},{"p":"3pm","x":0.796,"y":0.334,"c":1},{"p":"3pm","x":0.842,"y":0.334,"c":1},
{"p":"3pm","x":0.304,"y":0.376,"c":1},{"p":"3pm","x":0.351,"y":0.376,"c":1},{"p":"3pm","x":0.445,"y":0.376,"c":1},{"p":"3pm","x":0.491,"y":0.376,"c":1},{"p":"3pm","x":0.538,"y":0.376,"c":3},{"p":"3pm","x":0.679,"y":0.376,"c":1},{"p":"3pm","x":0.725,"y":0.376,"c":1},{"p":"3pm","x":0.772,"y":0.376,"c":3},
{"p":"3pm","x":0.421,"y":0.502,"c":1},{"p":"3pm","x":0.889,"y":0.502,"c":1},{"p":"3pm","x":0.983,"y":0.502,"c":1},{"p":"3pm","x":1.03,"y":0.502,"c":1},
{"p":"3pm","x":0.585,"y":0.543,"c":1},{"p":"3pm","x":0.679,"y":0.543,"c":1},{"p":"3pm","x":0.772,"y":0.543,"c":1},{"p":"3pm","x":0.187,"y":0.585,"c":1},{"p":"3pm","x":0.515,"y":0.585,"c":1},
{"p":"4pm","x":0.023,"y":0.042,"c":50},{"p":"4pm","x":0.07,"y":0.042,"c":600},{"p":"4pm","x":0.117,"y":0.042,"c":10},
{"p":"4pm","x":0.047,"y":0.084,"c":500},{"p":"4pm","x":0.094,"y":0.084,"c":60},{"p":"4pm","x":0.14,"y":0.084,"c":30},{"p":"4pm","x":0.187,"y":0.084,"c":8},{"p":"4pm","x":0.234,"y":0.084,"c":1},
{"p":"4pm","x":0.07,"y":0.125,"c":40},{"p":"4pm","x":0.117,"y":0.125,"c":30},{"p":"4pm","x":0.164,"y":0.125,"c":30},{"p":"4pm","x":0.211,"y":0.125,"c":5},{"p":"4pm","x":0.304,"y":0.125,"c":3},{"p":"4pm","x":0.351,"y":0.125,"c":1},
{"p":"4pm","x":0.047,"y":0.167,"c":1},{"p":"4pm","x":0.094,"y":0.167,"c":8},{"p":"4pm","x":0.14,"y":0.167,"c":30},{"p":"4pm","x":0.187,"y":0.167,"c":15},{"p":"4pm","x":0.234,"y":0.167,"c":10},{"p":"4pm","x":0.281,"y":0.167,"c":2},
{"p":"4pm","x":0.117,"y":0.209,"c":3},{"p":"4pm","x":0.164,"y":0.209,"c":3},{"p":"4pm","x":0.211,"y":0.209,"c":10},{"p":"4pm","x":0.257,"y":0.209,"c":8},{"p":"4pm","x":0.304,"y":0.209,"c":1},{"p":"4pm","x":0.351,"y":0.209,"c":2},
{"p":"4pm","x":0.187,"y":0.251,"c":3},{"p":"4pm","x":0.234,"y":0.251,"c":1},{"p":"4pm","x":0.281,"y":0.251,"c":1},{"p":"4pm","x":0.328,"y":0.251,"c":1},{"p":"4pm","x":0.374,"y":0.251,"c":1},{"p":"4pm","x":0.515,"y":0.251,"c":1},
{"p":"4pm","x":0.655,"y":0.334,"c":1},{"p":"4pm","x":0.749,"y":0.334,"c":1},{"p":"4pm","x":0.796,"y":0.418,"c":1},{"p":"4pm","x":0.234,"y":0.502,"c":1},
{"p":"5pm","x":0.023,"y":0.042,"c":15},{"p":"5pm","x":0.07,"y":0.042,"c":100},{"p":"5pm","x":0.117,"y":0.042,"c":8},{"p":"5pm","x":0.164,"y":0.042,"c":1},
{"p":"5pm","x":0.047,"y":0.084,"c":100},{"p":"5pm","x":0.094,"y":0.084,"c":40},{"p":"5pm","x":0.14,"y":0.084,"c":20},{"p":"5pm","x":0.187,"y":0.084,"c":6},{"p":"5pm","x":0.234,"y":0.084,"c":1},
{"p":"5pm","x":0.07,"y":0.125,"c":40},{"p":"5pm","x":0.117,"y":0.125,"c":30},{"p":"5pm","x":0.164,"y":0.125,"c":15},{"p":"5pm","x":0.211,"y":0.125,"c":3},{"p":"5pm","x":0.257,"y":0.125,"c":1},
{"p":"5pm","x":0.094,"y":0.167,"c":3},{"p":"5pm","x":0.14,"y":0.167,"c":15},{"p":"5pm","x":0.187,"y":0.167,"c":8},{"p":"5pm","x":0.234,"y":0.167,"c":1},
{"p":"5pm","x":0.117,"y":0.209,"c":1},{"p":"5pm","x":0.164,"y":0.209,"c":1},{"p":"5pm","x":0.211,"y":0.209,"c":3},{"p":"5pm","x":0.304,"y":0.209,"c":1},{"p":"5pm","x":0.234,"y":0.251,"c":2}
]},"facet":{"field":"p","sort":["6am","7am","8am","9am","10am","11am","noon","1pm","2pm","3pm","4pm","5pm"],"header":{"title":null,"labels":false,"labelFontSize":1,"labelPadding":0,"labelColor":"white"}},"columns":4,"bounds":"flush","spacing":{"row":79,"column":44},"resolve":{"axis":{"x":"independent","y":"independent"}},"spec":{"width":219,"height":219,
"encoding":{},
"layer":[
{"transform":[{"filter":"datum.c>0"}],"mark":{"type":"point","filled":true,"opacity":1,"size":125,"clip":true,"shape":"M0,-1L0.842,-0.5L0.842,0.5L0,1L-0.842,0.5L-0.842,-0.5Z"},"encoding":{"x":{"field":"x","type":"quantitative","scale":{"domain":[0,1.17],"nice":false,"zero":false},"axis":{"title":null,"values":[0,0.2,0.4,0.6,0.8,1],"format":".1f"}},"y":{"field":"y","type":"quantitative","scale":{"domain":[0,1.17],"nice":false,"zero":false},"axis":{"title":null,"values":[0,0.2,0.4,0.6,0.8,1],"format":".1f"}},"color":{"field":"c","type":"quantitative","scale":{"type":"log","domain":[1,1050],"scheme":"viridis"},"legend":{"orient":"none","legendX":1022,"legendY":-69,"title":"Count","titleFont":"Lato","titleFontSize":42,"titleFontWeight":"normal","titleColor":"#111","titleAnchor":"start","titlePadding":13,"gradientLength":795,"gradientThickness":35,"gradientStrokeColor":"#555","gradientStrokeWidth":1,"labelFont":"Lato","labelFontSize":41,"labelColor":"#111","labelOffset":4,"labelBaseline":"alphabetic","labelOverlap":false,"values":[1,10,100,1000],"format":"d"}}}},
{"transform":[{"filter":"datum.k=='LR'"}],"mark":{"type":"line","clip":true,"color":"#000","strokeWidth":1.4,"strokeDash":[5.5,2.2]},"encoding":{"x":{"field":"x","type":"quantitative"},"y":{"field":"y","type":"quantitative"}}},
{"transform":[{"filter":"datum.k=='OR'"}],"mark":{"type":"line","clip":true,"color":"#000","strokeWidth":1.4,"strokeDash":[1.4,2.4]},"encoding":{"x":{"field":"x","type":"quantitative"},"y":{"field":"y","type":"quantitative"}}},
{"transform":[{"filter":"datum.k=='L'"}],"mark":{"type":"rule","clip":true,"color":"#808080","strokeWidth":1.5},"encoding":{"x":{"datum":0,"type":"quantitative"},"y":{"datum":0,"type":"quantitative"},"x2":{"datum":1.17},"y2":{"datum":1.17}}},
{"transform":[{"filter":"datum.k=='L'"}],"mark":{"type":"rect","fill":"white","fillOpacity":0.8,"stroke":"#ccc","strokeWidth":1,"cornerRadius":2},"encoding":{"x":{"datum":0.03,"type":"quantitative"},"x2":{"datum":0.92},"y":{"datum":1.133,"type":"quantitative"},"y2":{"datum":0.845}}},
{"transform":[{"filter":"datum.k=='L'"}],"mark":{"type":"rule","color":"#808080","strokeWidth":1.5},"encoding":{"x":{"datum":0.052,"type":"quantitative"},"x2":{"datum":0.176},"y":{"datum":1.088,"type":"quantitative"}}},
{"transform":[{"filter":"datum.k=='L'"}],"mark":{"type":"rule","color":"#000","strokeWidth":1.4,"strokeDash":[5.5,2.2]},"encoding":{"x":{"datum":0.052,"type":"quantitative"},"x2":{"datum":0.176},"y":{"datum":0.995,"type":"quantitative"}}},
{"transform":[{"filter":"datum.k=='L'"}],"mark":{"type":"rule","color":"#000","strokeWidth":1.4,"strokeDash":[1.4,2.4]},"encoding":{"x":{"datum":0.052,"type":"quantitative"},"x2":{"datum":0.176},"y":{"datum":0.903,"type":"quantitative"}}},
{"transform":[{"filter":"datum.k=='L'"}],"mark":{"type":"text","align":"left","baseline":"middle","fontSize":11.4},"encoding":{"x":{"datum":0.225,"type":"quantitative"},"y":{"datum":1.088,"type":"quantitative"},"text":{"value":"1:1"}}},
{"transform":[{"filter":"datum.k=='L'"}],"mark":{"type":"text","align":"left","baseline":"middle","fontSize":11.4},"encoding":{"x":{"datum":0.225,"type":"quantitative"},"y":{"datum":0.995,"type":"quantitative"},"text":{"field":"lr"}}},
{"transform":[{"filter":"datum.k=='L'"}],"mark":{"type":"text","align":"left","baseline":"middle","fontSize":11.4},"encoding":{"x":{"datum":0.225,"type":"quantitative"},"y":{"datum":0.903,"type":"quantitative"},"text":{"field":"or"}}},
{"transform":[{"filter":"datum.x1>0"}],"mark":{"type":"rect","fill":"white"},"encoding":{"x":{"field":"x0","type":"quantitative"},"x2":{"field":"x1"},"y":{"field":"y0","type":"quantitative"},"y2":{"field":"y1"}}},
{"transform":[{"filter":"datum.k=='L'"}],"mark":{"type":"text","align":"center","baseline":"alphabetic","font":"Lato","fontSize":43,"color":"#000"},"encoding":{"x":{"field":"lx","type":"quantitative"},"y":{"field":"ly","type":"quantitative"},"text":{"field":"p"}}},
{"transform":[{"filter":"datum.k=='L'"}],"mark":{"type":"text","align":"center","baseline":"middle","fontSize":13.5},"encoding":{"x":{"datum":0.585,"type":"quantitative"},"y":{"datum":1.228,"type":"quantitative"},"text":{"field":"t"}}},
{"transform":[{"filter":"datum.k=='L'"}],"mark":{"type":"text","align":"left","baseline":"middle","fontSize":11},"encoding":{"x":{"datum":0,"type":"quantitative"},"y":{"datum":1.213,"type":"quantitative"},"text":{"value":"1e17"}}},
{"transform":[{"filter":"datum.k=='L'"}],"mark":{"type":"text","align":"right","baseline":"middle","fontSize":11},"encoding":{"x":{"datum":1.165,"type":"quantitative"},"y":{"datum":-0.15,"type":"quantitative"},"text":{"value":"1e17"}}},
{"transform":[{"filter":"datum.yt"}],"mark":{"type":"text","align":"center","baseline":"middle","angle":270,"fontSize":10.7},"encoding":{"x":{"datum":-0.203,"type":"quantitative"},"y":{"datum":0.585,"type":"quantitative"},"text":{"field":"yt"}}},
{"transform":[{"filter":"datum.xt"}],"mark":{"type":"text","align":"center","baseline":"middle","fontSize":11.5},"encoding":{"x":{"datum":0.585,"type":"quantitative"},"y":{"datum":-0.158,"type":"quantitative"},"text":{"field":"xt"}}},
{"transform":[{"filter":"datum.v"}],"mark":{"type":"text","align":"left","baseline":"alphabetic","font":"Lato","fontSize":40,"color":"#000"},"encoding":{"x":{"datum":0.01,"type":"quantitative"},"y":{"datum":1.353,"type":"quantitative"},"text":{"value":"v3"}}},
{"transform":[{"filter":"datum.v"}],"mark":{"type":"rect","fill":"white"},"encoding":{"x":{"datum":-0.05,"type":"quantitative"},"x2":{"datum":0.3},"y":{"datum":1.39,"type":"quantitative"},"y2":{"datum":1.52}}}
]}},
{"data":{"values":[{"count":1},{"count":1000}]},"width":35,"height":781,"mark":{"type":"point","opacity":0},"encoding":{"y":{"field":"count","type":"quantitative","scale":{"type":"log","domain":[1,1050],"range":[781,-14],"nice":false},"axis":{"orient":"right","title":"count","titleFontSize":10.5,"titleFont":"DejaVu Sans","titleFontWeight":"normal","titleColor":"#333","titleAngle":270,"titlePadding":38,"labels":false,"domain":false,"tickSize":4,"tickColor":"#444","values":[1,2,3,4,5,6,7,8,9,10,20,30,40,50,60,70,80,90,100,200,300,400,500,600,700,800,900,1000]}}},"view":{"stroke":null}}
]}
